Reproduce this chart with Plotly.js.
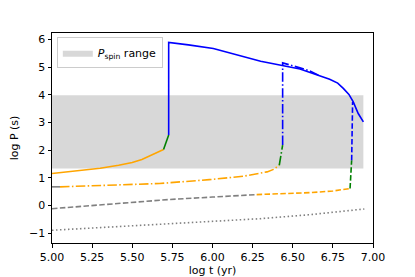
<!DOCTYPE html>
<html>
<head>
<meta charset="utf-8">
<script src="https://cdn.plot.ly/plotly-3.0.1.min.js"></script>
<style>html,body{margin:0;padding:0;background:#fff;}#chart{width:415px;height:277px;}</style>
</head>
<body>
<div id="chart"></div>
<script>
// P_spin range band
const bandX = [5.0, 6.94];
const bandY = [1.33, 3.98];

// Solid track (-)
const solidOrangeX = [5.0, 5.1, 5.21, 5.3, 5.415, 5.5, 5.56, 5.62, 5.66, 5.695];
const solidOrangeY = [1.15, 1.21, 1.27, 1.34, 1.45, 1.55, 1.66, 1.81, 1.91, 2.02];
const solidGreenX = [5.695, 5.71, 5.727];
const solidGreenY = [2.02, 2.24, 2.54];
const solidBlueX = [5.727, 5.727, 5.85, 5.95, 6.005, 6.3, 6.545, 6.73, 6.78, 6.815, 6.85, 6.877, 6.908, 6.94];
const solidBlueY = [2.54, 5.89, 5.80, 5.73, 5.67, 5.21, 4.93, 4.56, 4.42, 4.23, 4.01, 3.74, 3.32, 3.02];

// Dash-dot track (-.)
const ddGrayX = [5.0, 5.05];
const ddGrayY = [0.67, 0.67];
const ddOrangeX = [5.05, 5.34, 5.67, 5.98, 6.19, 6.34, 6.38, 6.416];
const ddOrangeY = [0.67, 0.73, 0.79, 0.93, 1.05, 1.21, 1.30, 1.45];
const ddGreenX = [6.416, 6.428, 6.437];
const ddGreenY = [1.45, 1.85, 2.18];
const ddBlueX = [6.437, 6.437, 6.545, 6.607, 6.67];
const ddBlueY = [2.18, 5.15, 4.97, 4.86, 4.68];

// Dashed track (--)
const dGrayX = [5.0, 5.35, 5.725, 6.0, 6.275];
const dGrayY = [-0.12, 0.03, 0.21, 0.30, 0.39];
const dOrangeX = [6.275, 6.45, 6.61, 6.75, 6.857];
const dOrangeY = [0.39, 0.42, 0.46, 0.52, 0.61];
const dGreenX = [6.857, 6.862, 6.867];
const dGreenY = [0.61, 1.1, 1.63];
const dBlueX = [6.867, 6.873];
const dBlueY = [1.63, 3.74];

// Dotted track (:)
const dotGrayX = [5.0, 5.35, 5.725, 6.0, 6.3, 6.6, 6.946];
const dotGrayY = [-0.90, -0.78, -0.66, -0.58, -0.48, -0.34, -0.13];

const ORANGE = '#FFA500', GREEN = '#008000', BLUE = '#0000FF', GRAY = '#808080';
const DASH = '5.5px,2.4px', DASHDOT = '9.5px,2.4px,1.5px,2.4px', DOT = '1.5px,2.5px';

function line(x, y, color, dash) {
  return {x: x, y: y, type: 'scatter', mode: 'lines', showlegend: false, hoverinfo: 'skip',
    line: {color: color, width: 1.6, dash: dash}};
}

const traces = [
  {x: [bandX[0], bandX[1], bandX[1], bandX[0], bandX[0]],
   y: [bandY[0], bandY[0], bandY[1], bandY[1], bandY[0]],
   type: 'scatter', mode: 'lines', fill: 'toself', fillcolor: '#D8D8D8',
   line: {width: 0, color: '#D8D8D8'}, name: '<i>P</i><sub>spin</sub> range', showlegend: true},
  line(dotGrayX, dotGrayY, GRAY, DOT),
  line(dGrayX, dGrayY, GRAY, DASH),
  line(dOrangeX, dOrangeY, ORANGE, DASH),
  line(dGreenX, dGreenY, GREEN, DASH),
  line(dBlueX, dBlueY, BLUE, DASH),
  line(ddGrayX, ddGrayY, GRAY, DASHDOT),
  line(ddOrangeX, ddOrangeY, ORANGE, DASHDOT),
  line(ddGreenX, ddGreenY, GREEN, DASHDOT),
  line(ddBlueX, ddBlueY, BLUE, DASHDOT),
  line(solidOrangeX, solidOrangeY, ORANGE, 'solid'),
  line(solidGreenX, solidGreenY, GREEN, 'solid'),
  line(solidBlueX, solidBlueY, BLUE, 'solid')
];

const axisCommon = {
  showgrid: false, zeroline: false, ticks: 'outside', ticklen: 3.5, tickwidth: 1,
  tickcolor: '#000', linecolor: '#000', linewidth: 1, mirror: true,
  tickfont: {family: 'DejaVu Sans', size: 11, color: '#000'}
};

const layout = {
  width: 415, height: 277,
  margin: {l: 52, r: 42, t: 33, b: 34},
  paper_bgcolor: '#fff', plot_bgcolor: '#fff',
  font: {family: 'DejaVu Sans', size: 11, color: '#000'},
  xaxis: Object.assign({}, axisCommon, {
    range: [5, 7], tick0: 5, dtick: 0.25, tickformat: '.2f',
    title: {text: 'log t (yr)', font: {family: 'DejaVu Sans', size: 11}, standoff: 3}
  }),
  yaxis: Object.assign({}, axisCommon, {
    range: [-1.36, 6.23], tick0: 0, dtick: 1,
    title: {text: 'log P (s)', font: {family: 'DejaVu Sans', size: 11}, standoff: 8}
  }),
  legend: {x: 0.015, y: 0.98, xanchor: 'left', yanchor: 'top', bgcolor: '#fff',
    bordercolor: '#CCCCCC', borderwidth: 1, itemwidth: 30,
    font: {family: 'DejaVu Sans', size: 11}},
  showlegend: true
};

Plotly.newPlot('chart', traces, layout, {displayModeBar: false, staticPlot: true});
</script>
</body>
</html>
